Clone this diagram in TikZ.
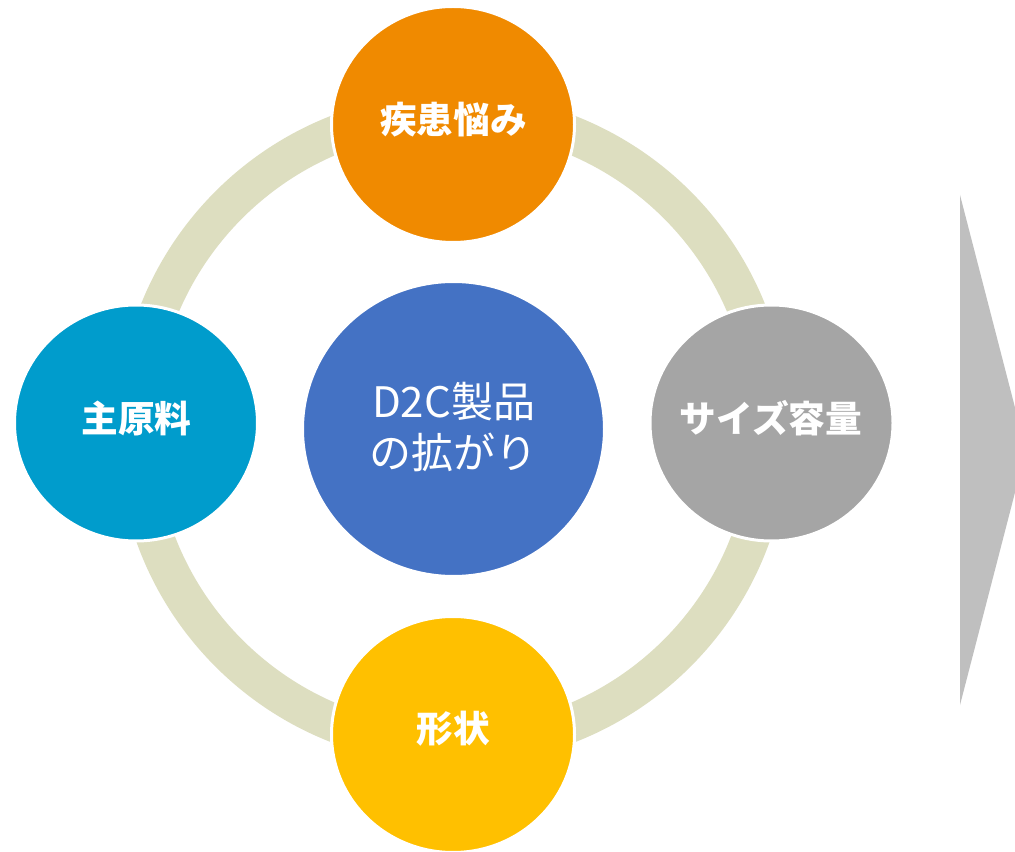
\documentclass[tikz,border=0pt]{standalone}
\usepackage{fontspec}
\newfontfamily\jp{Noto Sans CJK JP}
\usetikzlibrary{shapes.geometric}
\definecolor{cOrange}{RGB}{240,138,0}
\definecolor{cBlue}{RGB}{68,114,196}
\definecolor{cCyan}{RGB}{0,156,204}
\definecolor{cGray}{RGB}{165,165,165}
\definecolor{cGold}{RGB}{255,192,0}
\definecolor{cRing}{RGB}{221,222,192}
\definecolor{cArrow}{RGB}{191,191,191}
\tikzset{
  bubble/.style={ellipse, draw=white, line width=2.25pt, inner sep=0pt,
    minimum width=182.25pt, minimum height=177pt},
  hub/.style={ellipse, draw=white, line width=2.25pt, inner sep=0pt,
    minimum width=226.5pt, minimum height=221.25pt, fill=cBlue},
  lbl/.style={text=white, font=\jp\bfseries\fontsize{27.5}{33}\selectfont, inner sep=0pt},
  hubtext/.style={text=white, align=center, font=\jp\fontsize{31.5}{38}\selectfont, inner sep=0pt},
  ring/.style={draw=cRing, line width=28.5pt},
  bigarrow/.style={fill=cArrow}
}
\begin{document}
\begin{tikzpicture}[x=0.75pt,y=-0.75pt]
\useasboundingbox (0,0) rectangle (1015,852);
\fill[white] (0,0) rectangle (1015,852);
% ring
\coordinate (o) at (453,429);
\draw[ring] (o) circle (237.75pt);
% arrow shape
\fill[bigarrow] (960,195) -- (1026,450) -- (960,705) -- cycle;
% circles
\node[hub] (hub) at (453.5,429) {};
\node[bubble, fill=cOrange] (top) at (453,124.5) {};
\node[bubble, fill=cCyan] (left) at (136,423) {};
\node[bubble, fill=cGray] (right) at (771.5,423) {};
\node[bubble, fill=cGold] (bottom) at (453,734.5) {};
% texts
\node[hubtext] (hubt) at (453.5,427) {D2C製品\\の拡がり};
\node[lbl] (topt) at (453.5,120) {疾患悩み};
\node[lbl] (leftt) at (136.5,418) {主原料};
\node[lbl] (rightt) at (771,418) {サイズ容量};
\node[lbl] (bottomt) at (453.5,729) {形状};
\end{tikzpicture}
\end{document}
